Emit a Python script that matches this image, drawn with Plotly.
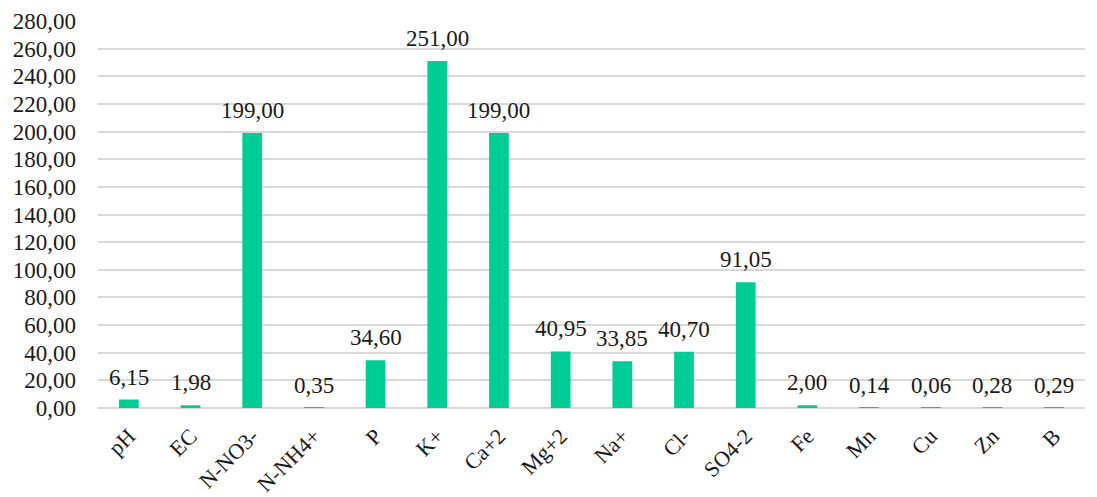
import plotly.graph_objects as go

categories = ["pH", "EC", "N-NO3-", "N-NH4+", "P", "K+", "Ca+2", "Mg+2",
              "Na+", "Cl-", "SO4-2", "Fe", "Mn", "Cu", "Zn", "B"]
values = [6.15, 1.98, 199.00, 0.35, 34.60, 251.00, 199.00, 40.95,
          33.85, 40.70, 91.05, 2.00, 0.14, 0.06, 0.28, 0.29]
y_ticks = list(range(0, 281, 20))

font_family = "Liberation Serif, Times New Roman, serif"
text_color = "#1a1a1a"
font_size = 23

fig = go.Figure(
    go.Bar(
        x=categories,
        y=values,
        marker=dict(color="#00CC96", line=dict(width=0)),
        hoverinfo="x+y",
    )
)

# value labels above each bar, comma as decimal separator
for cat, val in zip(categories, values):
    fig.add_annotation(
        x=cat,
        y=val,
        text=f"{val:.2f}".replace(".", ","),
        showarrow=False,
        yanchor="bottom",
        yshift=8,
        font=dict(family=font_family, size=font_size, color=text_color),
    )

fig.update_layout(
    width=1097,
    height=497,
    margin=dict(l=98, r=12, t=21, b=89),
    paper_bgcolor="white",
    plot_bgcolor="white",
    separators=",.",
    bargap=0.68,
    showlegend=False,
    font=dict(family=font_family, size=font_size, color=text_color),
    xaxis=dict(
        automargin=False,
        tickangle=-45,
        showgrid=False,
        showline=False,
        ticks="",
        ticklabelstandoff=10,
        tickfont=dict(family=font_family, size=22, color=text_color),
    ),
    yaxis=dict(
        automargin=False,
        range=[0, 280],
        tickvals=y_ticks,
        tickformat=".2f",
        showgrid=True,
        gridcolor="#D9D9D9",
        gridwidth=1.5,
        zeroline=True,
        zerolinecolor="#D9D9D9",
        zerolinewidth=1.5,
        showline=False,
        ticks="",
        ticklabelstandoff=21,
        tickfont=dict(family=font_family, size=font_size, color=text_color),
    ),
)

fig.write_html("out.html")
